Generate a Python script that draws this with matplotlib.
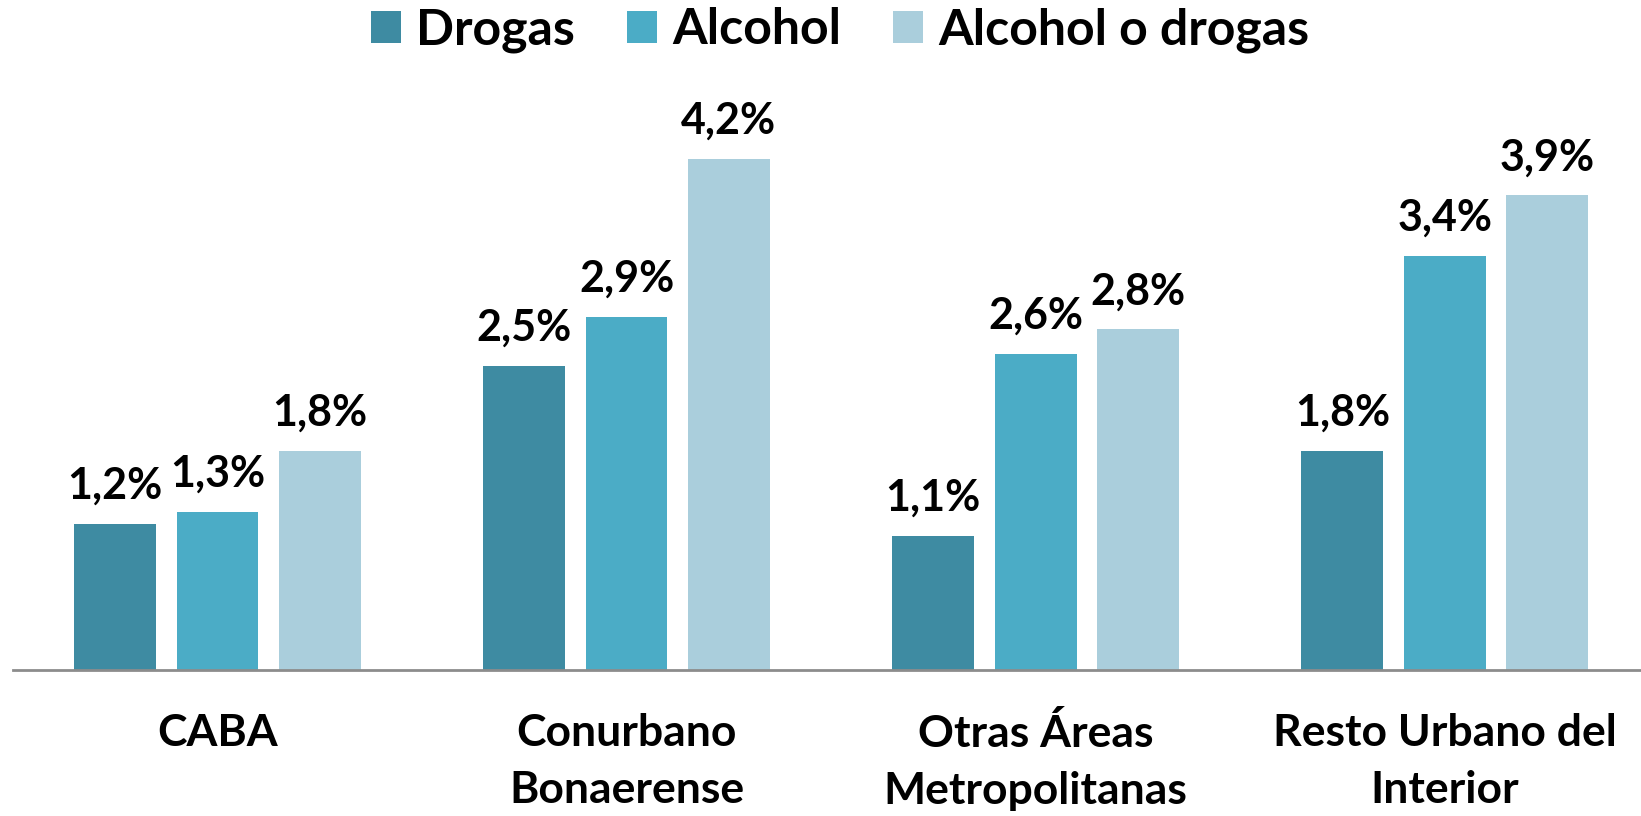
import matplotlib
matplotlib.use("Agg")
import matplotlib.pyplot as plt
import numpy as np
from matplotlib.patches import Patch

categories = ["CABA", "Conurbano\nBonaerense", "Otras Áreas\nMetropolitanas", "Resto Urbano del\nInterior"]
series_names = ["Drogas", "Alcohol", "Alcohol o drogas"]
drogas = [1.2, 2.5, 1.1, 1.8]
alcohol = [1.3, 2.9, 2.6, 3.4]
alcohol_o_drogas = [1.8, 4.2, 2.8, 3.9]
labels_drogas = ["1,2%", "2,5%", "1,1%", "1,8%"]
labels_alcohol = ["1,3%", "2,9%", "2,6%", "3,4%"]
labels_aod = ["1,8%", "4,2%", "2,8%", "3,9%"]

colors = ["#3E8BA2", "#4BACC6", "#AACEDC"]

plt.rcParams['font.family'] = ['Lato', 'DejaVu Sans']
plt.rcParams['font.weight'] = 'bold'

fig = plt.figure(figsize=(16.41, 8.16), dpi=100)
ax = fig.add_axes([13/1641, (816-670)/816, 1 - 13/1641, (670-100)/816])

x = np.arange(len(categories))
width = 0.2
offsets = [-0.25, 0.0, 0.25]
all_series = [drogas, alcohol, alcohol_o_drogas]
all_labels = [labels_drogas, labels_alcohol, labels_aod]

for vals, labs, off, col in zip(all_series, all_labels, offsets, colors):
    bars = ax.bar(x + off, vals, width, color=col)
    for b, lab in zip(bars, labs):
        ax.annotate(lab, (b.get_x() + b.get_width()/2, b.get_height()),
                    xytext=(0, 13), textcoords="offset points",
                    ha="center", va="bottom", fontsize=31, fontweight="bold")

ax.set_xlim(-0.5, 3.48)
ax.set_ylim(0, 570/121.7)
ax.set_yticks([])
ax.set_xticks(x)
ax.set_xticklabels(categories, fontsize=32, fontweight="bold", linespacing=1.5)
ax.tick_params(axis='x', length=0, pad=31)
for s in ["top", "right", "left"]:
    ax.spines[s].set_visible(False)
ax.spines["bottom"].set_color("#8C8C8C")
ax.spines["bottom"].set_linewidth(2)

handles = [Patch(facecolor=c) for c in colors]
fig.legend(handles, series_names, loc="center", bbox_to_anchor=(840/1641, 1 - 30/816),
           ncol=3, frameon=False, handlelength=0.6, handleheight=0.6,
           handletextpad=0.3, columnspacing=1.05, prop={'weight': 'bold', 'size': 36})

fig.savefig("out.png", dpi=100)
